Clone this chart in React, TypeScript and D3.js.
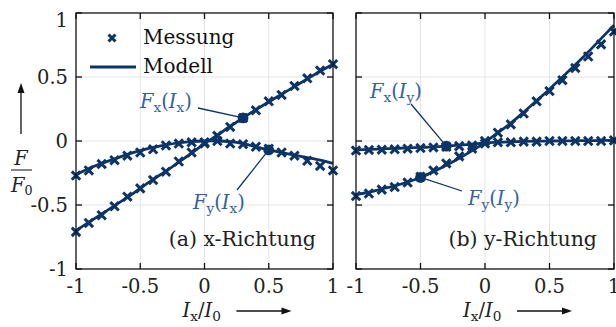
import React from 'react';
import * as d3 from 'd3';

// normalised current I/I0 (measurement + model grid)
const iVals = [-1, -0.9, -0.8, -0.7, -0.6, -0.5, -0.4, -0.3, -0.2, -0.1, 0, 0.1, 0.2, 0.3, 0.4, 0.5, 0.6, 0.7, 0.8, 0.9, 1];

// (a) x-Richtung
const fxIxMess = [-0.71, -0.64, -0.58, -0.51, -0.435, -0.37, -0.305, -0.24, -0.16, -0.09, -0.02, 0.04, 0.11, 0.18, 0.24, 0.31, 0.36, 0.43, 0.49, 0.55, 0.6];
const fxIxModell = [-0.7, -0.635, -0.57, -0.505, -0.44, -0.37, -0.3, -0.235, -0.165, -0.095, -0.02, 0.045, 0.115, 0.18, 0.245, 0.305, 0.365, 0.425, 0.485, 0.545, 0.6];
const fyIxMess = [-0.27, -0.23, -0.18, -0.15, -0.115, -0.09, -0.065, -0.035, -0.02, -0.01, -0.01, 0, -0.02, -0.025, -0.045, -0.06, -0.09, -0.115, -0.155, -0.195, -0.23];
const fyIxModell = [-0.265, -0.215, -0.175, -0.14, -0.105, -0.075, -0.05, -0.03, -0.015, -0.005, 0, 0, -0.005, -0.02, -0.045, -0.07, -0.09, -0.11, -0.13, -0.15, -0.175];

// (b) y-Richtung
const fxIyMess = [-0.075, -0.07, -0.068, -0.065, -0.06, -0.055, -0.05, -0.045, -0.04, -0.035, -0.02, -0.01, -0.01, -0.005, -0.005, 0, 0, 0, 0, 0, 0.005];
const fxIyModell = [-0.07, -0.066, -0.062, -0.058, -0.054, -0.05, -0.046, -0.04, -0.033, -0.025, -0.015, -0.01, -0.006, -0.003, -0.001, 0, 0.001, 0.002, 0.003, 0.004, 0.005];
const fyIyMess = [-0.43, -0.41, -0.38, -0.36, -0.325, -0.28, -0.23, -0.175, -0.12, -0.06, 0, 0.065, 0.13, 0.215, 0.31, 0.39, 0.475, 0.57, 0.66, 0.755, 0.855];
const fyIyModell = [-0.42, -0.4, -0.375, -0.35, -0.32, -0.285, -0.24, -0.19, -0.135, -0.075, -0.01, 0.065, 0.14, 0.225, 0.315, 0.405, 0.5, 0.595, 0.695, 0.8, 0.905];

const tickVals = [-1, -0.5, 0, 0.5, 1];
const tickLabels = ['-1', '-0.5', '0', '0.5', '1'];

const NAVY = '#0c3466';
const NOTE = '#35629a';
const FONT = '"DejaVu Serif", serif';
const FS = 19.5;

const y = d3.scaleLinear().domain([-1, 1]).range([269, 13]);
const xa = d3.scaleLinear().domain([-1, 1]).range([76, 333]);
const xb = d3.scaleLinear().domain([-1, 1]).range([356, 614]);

const cross = d3.symbol(d3.symbolTimes, 48)();
const crossSmall = d3.symbol(d3.symbolTimes, 34)();

// F_a(I_b) style label
const FLabel = ({ x, yy, a, b }) => (
  <text x={x} y={yy} fontFamily={FONT} fontSize={FS} fill={NOTE}>
    <tspan fontStyle="italic">F</tspan>
    <tspan fontSize={FS * 0.7} dy={4}>{a}</tspan>
    <tspan dy={-4}>(</tspan>
    <tspan fontStyle="italic">I</tspan>
    <tspan fontSize={FS * 0.7} dy={4}>{b}</tspan>
    <tspan dy={-4}>)</tspan>
  </text>
);

const Panel = ({ x, series, title, showYLabels, notes }) => {
  const line = d3.line<number>().x((_, i) => x(iVals[i])).y(d => y(d)).curve(d3.curveCatmullRom);
  const [x0, x1] = x.range();
  const [y0, y1] = y.range();
  return (
    <g>
      {tickVals.slice(1, -1).map(t => (
        <g key={t}>
          <line x1={x(t)} x2={x(t)} y1={y0} y2={y1} stroke="#e4e4e4" strokeWidth={1} />
          <line x1={x0} x2={x1} y1={y(t)} y2={y(t)} stroke="#e4e4e4" strokeWidth={1} />
        </g>
      ))}
      {tickVals.map(t => (
        <g key={'t' + t} stroke="#111" strokeWidth={1.3}>
          <line x1={x(t)} x2={x(t)} y1={y0} y2={y0 - 6} />
          <line x1={x(t)} x2={x(t)} y1={y1} y2={y1 + 6} />
          <line x1={x0} x2={x0 + 6} y1={y(t)} y2={y(t)} />
          <line x1={x1} x2={x1 - 6} y1={y(t)} y2={y(t)} />
        </g>
      ))}
      {series.map((s, k) => (
        <g key={k}>
          <path d={line(s.modell)} fill="none" stroke={NAVY} strokeWidth={2.8} />
          {s.mess.map((v, i) => (
            <path key={i} d={cross} transform={`translate(${x(iVals[i])},${y(v)})`} stroke={NAVY} strokeWidth={3} fill="none" />
          ))}
        </g>
      ))}
      {notes.map((n, k) => {
        const cx = x(n.at), cy = y(n.val);
        return (
          <g key={k}>
            <line x1={cx} y1={cy} x2={n.lx} y2={n.ly} stroke={NAVY} strokeWidth={1.3} />
            <circle cx={cx} cy={cy} r={5.4} fill={NAVY} />
            <FLabel x={n.tx} yy={n.ty} a={n.a} b={n.b} />
          </g>
        );
      })}
      <rect x={x0} y={y1} width={x1 - x0} height={y0 - y1} fill="none" stroke="#111" strokeWidth={1.3} />
      {tickVals.map((t, i) => (
        <text key={'x' + t} x={x(t)} y={293} textAnchor="middle" fontFamily={FONT} fontSize={FS} fill="#222">{tickLabels[i]}</text>
      ))}
      {showYLabels && tickVals.map((t, i) => (
        <text key={'y' + t} x={x0 - 8} y={Math.max(y(t), 20)} dy="0.36em" textAnchor="end" fontFamily={FONT} fontSize={FS} fill="#222">{tickLabels[i]}</text>
      ))}
      <text x={x1 - 17} y={246} textAnchor="end" fontFamily={FONT} fontSize={20.5} fill="#222">{title}</text>
      <text x={(x0 + x1) / 2 - 22} y={317} fontFamily={FONT} fontSize={FS} fill="#222">
        <tspan fontStyle="italic">I</tspan>
        <tspan fontSize={FS * 0.7} dy={4}>x</tspan>
        <tspan dy={-4}>/</tspan>
        <tspan fontStyle="italic">I</tspan>
        <tspan fontSize={FS * 0.7} dy={4}>0</tspan>
      </text>
      <line x1={(x0 + x1) / 2 + 32} x2={(x0 + x1) / 2 + 80} y1={311} y2={311} stroke="#111" strokeWidth={1.3} />
      <path d={`M${(x0 + x1) / 2 + 87},311 l-10,-3.5 l0,7 z`} fill="#111" />
    </g>
  );
};

export default function App() {
  return (
    <svg width={616} height={327} style={{ position: 'absolute', left: 0, top: 0, background: '#fff' }}>
      <Panel
        x={xa}
        title="(a) x-Richtung"
        showYLabels
        series={[{ mess: fxIxMess, modell: fxIxModell }, { mess: fyIxMess, modell: fyIxModell }]}
        notes={[
          { at: 0.3, val: fxIxModell[13], lx: 198, ly: 108, tx: 140, ty: 108, a: 'x', b: 'x' },
          { at: 0.5, val: fyIxModell[15], lx: 237, ly: 190, tx: 193, ty: 209, a: 'y', b: 'x' },
        ]}
      />
      <Panel
        x={xb}
        title="(b) y-Richtung"
        showYLabels={false}
        series={[{ mess: fxIyMess, modell: fxIyModell }, { mess: fyIyMess, modell: fyIyModell }]}
        notes={[
          { at: -0.3, val: fxIyModell[7], lx: 411, ly: 104, tx: 370, ty: 98, a: 'x', b: 'y' },
          { at: -0.5, val: fyIyModell[5], lx: 462, ly: 191, tx: 468, ty: 205, a: 'y', b: 'y' },
        ]}
      />
      {/* legend */}
      <path d={crossSmall} transform="translate(112,38)" stroke={NAVY} strokeWidth={3} fill="none" />
      <text x={143} y={44} fontFamily={FONT} fontSize={20} fill="#111">Messung</text>
      <line x1={90} x2={136} y1={67} y2={67} stroke={NAVY} strokeWidth={3} />
      <text x={143} y={73} fontFamily={FONT} fontSize={20} fill="#111">Modell</text>
      {/* y axis label */}
      <line x1={21} x2={21} y1={134} y2={90} stroke="#111" strokeWidth={1.3} />
      <path d="M21,83 l-3.5,10 l7,0 z" fill="#111" />
      <text x={21} y={165} textAnchor="middle" fontFamily={FONT} fontSize={FS} fontStyle="italic" fill="#222">F</text>
      <line x1={11} x2={32} y1={170} y2={170} stroke="#222" strokeWidth={1.1} />
      <text x={11} y={192} fontFamily={FONT} fontSize={FS} fill="#222">
        <tspan fontStyle="italic">F</tspan>
        <tspan fontSize={FS * 0.65} dy={3}>0</tspan>
      </text>
    </svg>
  );
}
